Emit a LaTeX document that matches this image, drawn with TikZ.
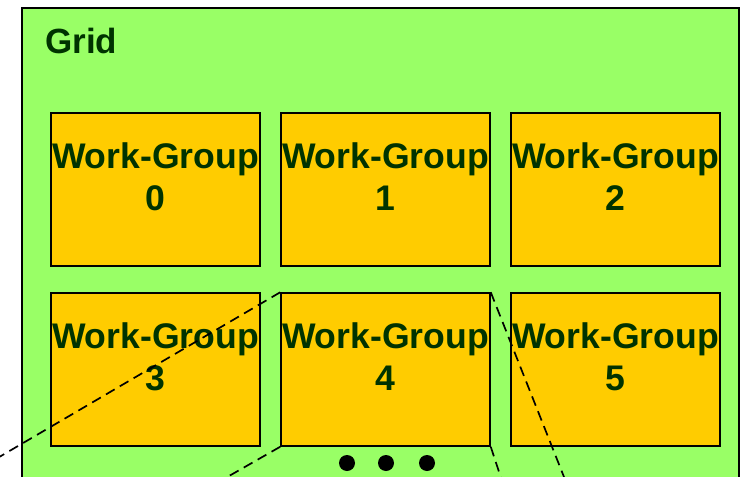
\documentclass[tikz,border=0pt]{standalone}
\usepackage{fontspec}
\setmainfont{Liberation Sans}
\usepackage{xcolor}
\usetikzlibrary{positioning}

\definecolor{gridgreen}{HTML}{99FF66}
\definecolor{wgorange}{HTML}{FFCC00}
\definecolor{txtgreen}{HTML}{003300}

\begin{document}
\begin{tikzpicture}[x=1pt, y=-1pt,
        wgbox/.style={draw, line width=1.5pt, fill=wgorange, minimum width=209pt,
                      minimum height=153pt, inner sep=0pt},
        wgtext/.style={align=center, inner sep=0pt, text=txtgreen,
                       font=\fontsize{35.6}{42}\selectfont\bfseries},
        cut/.style={dashed, dash pattern=on 10pt off 6pt, line width=1.7pt}
    ]
        \useasboundingbox (0,0) rectangle (740,477);
        \clip (0,0) rectangle (740,477);
        % grid background
        \draw[line width=2pt, fill=gridgreen] (22,8) rectangle (739,500);
        \node[anchor=base west, inner sep=0pt, text=txtgreen,
              font=\fontsize{35}{40}\selectfont\bfseries] (grid) at (45,53) {Grid};

        \node[wgbox] (wg0) at (155.5, 189.5) {};
        \node[wgbox] (wg1) at (385.5, 189.5) {};
        \node[wgbox] (wg2) at (615.5, 189.5) {};
        \node[wgbox] (wg3) at (155.5, 369.5) {};
        \node[wgbox] (wg4) at (385.5, 369.5) {};
        \node[wgbox] (wg5) at (615.5, 369.5) {};

        \node[wgtext, below=30pt of wg0.north] (t0) {Work-Group\\0};
        \node[wgtext, below=30pt of wg1.north] (t1) {Work-Group\\1};
        \node[wgtext, below=30pt of wg2.north] (t2) {Work-Group\\2};
        \node[wgtext, below=30pt of wg3.north] (t3) {Work-Group\\3};
        \node[wgtext, below=30pt of wg4.north] (t4) {Work-Group\\4};
        \node[wgtext, below=30pt of wg5.north] (t5) {Work-Group\\5};

        % zoom lines out of work-group 4
        \coordinate (zl1) at (-40, 480);
        \coordinate (zl2) at (215, 484);
        \coordinate (zr1) at (566, 482);
        \coordinate (zr2) at (503, 484);
        \draw[cut] (wg4.north west) -- (zl1);
        \draw[cut] (wg4.south west) -- (zl2);
        \draw[cut] (wg4.north east) -- (zr1);
        \draw[cut] (wg4.south east) -- (zr2);

        % more work-groups
        \fill (347,463) circle (8pt);
        \fill (386,463) circle (8pt);
        \fill (427,463) circle (8pt);
    \end{tikzpicture}
\end{document}
